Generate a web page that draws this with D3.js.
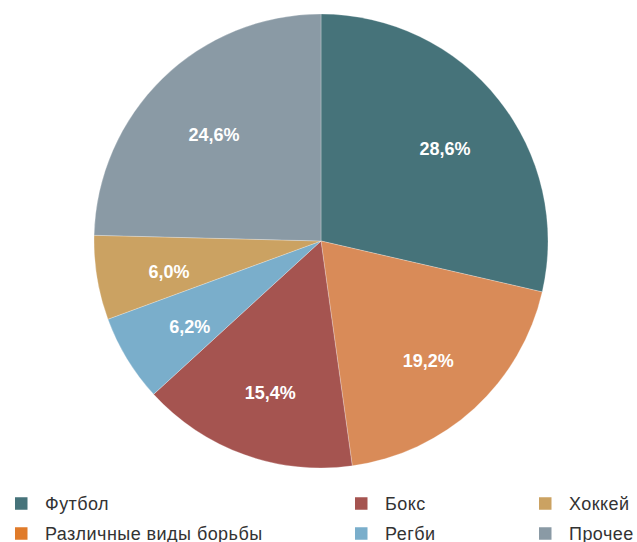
<!DOCTYPE html>
<html><head><meta charset="utf-8">
<script src="https://cdn.jsdelivr.net/npm/d3@7"></script>
<style>body{margin:0;background:#fff;}svg{display:block;}</style>
</head><body>
<svg id="c" width="637" height="542"></svg>
<script>
const categories = ["Футбол","Различные виды борьбы","Бокс","Регби","Хоккей","Прочее"];
const values = [28.6,19.2,15.4,6.2,6.0,24.6];
const sliceColors = ["#46737a","#d98b58","#a55450","#7aaecb","#cba262","#8a9aa5"];
const legendColors = ["#46737a","#e07b2a","#a55450","#7aaecb","#cba262","#8a9aa5"];

const svg = d3.select("#c");
const cx = 321, cy = 241, R = 227;
const data = categories.map((c,i)=>({c, v:values[i], i}));
const pie = d3.pie().value(d=>d.v).sort(null);
const arcs = pie(data);
const arc = d3.arc().innerRadius(0).outerRadius(R);
const labelArc = d3.arc().innerRadius(156).outerRadius(156);
const g = svg.append("g").attr("transform",`translate(${cx},${cy})`);
g.selectAll("path").data(arcs).join("path")
  .attr("d",arc).attr("fill",d=>sliceColors[d.data.i])
  .attr("stroke","#fff").attr("stroke-width",0.5).attr("stroke-opacity",0.5);
g.selectAll("text").data(arcs).join("text")
  .attr("transform",d=>{const [x,y]=labelArc.centroid(d);return `translate(${x+2},${y+5})`;})
  .attr("text-anchor","middle").attr("dy","0.35em")
  .attr("fill","#fff").attr("font-family","Liberation Sans, Arial, sans-serif")
  .attr("font-size",18).attr("font-weight",700)
  .text(d=>d3.format(".1f")(d.data.v).replace(".",",")+"%");

const colX = [15,355,539];
const rowY = [503.5,533.5];
const lg = svg.append("g");
categories.forEach((name,k)=>{
  const col = Math.floor(k/2), row = k%2;
  const x = colX[col], y = rowY[row];
  lg.append("rect").attr("x",x).attr("y",y-6.25).attr("width",12.5).attr("height",12.5)
    .attr("fill",legendColors[k]);
  lg.append("text").attr("x",x+30).attr("y",y).attr("dy","0.35em")
    .attr("font-family","Liberation Sans, Arial, sans-serif").attr("font-size",18)
    .attr("letter-spacing",0.45)
    .attr("fill","#333").text(name);
});
</script>
</body></html>
